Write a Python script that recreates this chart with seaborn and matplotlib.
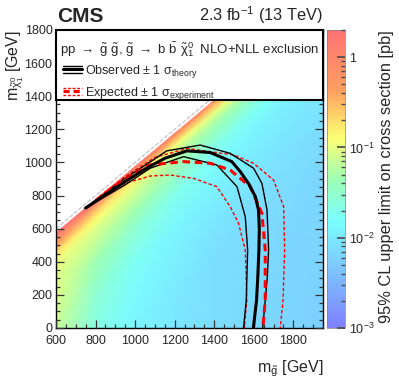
import numpy as np
import matplotlib
matplotlib.use("Agg")
import matplotlib.pyplot as plt
import seaborn as sns
from matplotlib.colors import LinearSegmentedColormap, LogNorm
from matplotlib.lines import Line2D
from matplotlib.patches import Rectangle
from matplotlib.legend_handler import HandlerBase
from matplotlib.ticker import MultipleLocator

# ==================================
# Data
# ==================================
# heat map: log10(upper limit [pb]) on a (gluino mass, mass splitting) grid
gluino_grid = [600, 800, 1000, 1200, 1400, 1600, 1800, 1950]
split_grid = [25, 50, 100, 150, 200, 300, 400, 600, 800, 1000, 1300, 1950]
log_limit = [
    # one row per gluino mass, one value per mass splitting
    [0.25, 0.10, -0.35, -0.75, -0.95, -1.05, -1.05, -1.15, -1.20, -1.20, -1.20, -1.20],
    [0.25, -0.05, -0.65, -0.90, -1.05, -1.20, -1.35, -1.55, -1.65, -1.70, -1.70, -1.70],
    [0.20, -0.25, -0.85, -1.05, -1.15, -1.35, -1.55, -1.75, -1.85, -1.90, -1.90, -1.90],
    [0.05, -0.40, -0.95, -1.15, -1.30, -1.50, -1.70, -1.90, -1.95, -2.00, -2.05, -2.05],
    [-0.10, -0.50, -1.00, -1.25, -1.40, -1.65, -1.80, -1.95, -2.05, -2.10, -2.10, -2.15],
    [-0.20, -0.60, -1.05, -1.30, -1.50, -1.75, -1.90, -2.00, -2.10, -2.15, -2.15, -2.20],
    [-0.30, -0.65, -1.10, -1.35, -1.55, -1.80, -1.95, -2.05, -2.10, -2.15, -2.20, -2.20],
    [-0.35, -0.70, -1.15, -1.40, -1.60, -1.85, -2.00, -2.05, -2.15, -2.20, -2.20, -2.25],
]

# exclusion contours (m_gluino, m_LSP)
obs_x = [750, 850, 950, 1050, 1150, 1262, 1380, 1489, 1532, 1575, 1608, 1624, 1628, 1626, 1620, 1614, 1598]
obs_y = [725, 805, 885, 960, 1025, 1070, 1060, 1005, 944, 870, 793, 713, 600, 471, 300, 169, 0]
obs_up_x = [745, 850, 950, 1060, 1160, 1329, 1481, 1599, 1641, 1667, 1675, 1668, 1658, 1645]
obs_up_y = [722, 815, 905, 990, 1070, 1105, 1055, 965, 874, 713, 471, 300, 169, 0]
obs_dn_x = [750, 850, 950, 1076, 1245, 1413, 1515, 1557, 1569, 1562, 1548]
obs_dn_y = [722, 795, 865, 965, 1035, 985, 854, 672, 471, 169, 0]
exp_x = [800, 900, 1000, 1076, 1245, 1380, 1481, 1582, 1641, 1658, 1658, 1646]
exp_y = [770, 860, 935, 985, 1005, 995, 954, 854, 693, 471, 169, 0]
exp_up_x = [820, 950, 1100, 1262, 1498, 1599, 1700, 1751, 1756, 1748, 1734]
exp_up_y = [795, 915, 1030, 1085, 1045, 995, 894, 733, 471, 169, 0]
exp_dn_x = [880, 960, 1076, 1177, 1295, 1413, 1481, 1523, 1557, 1565, 1552]
exp_dn_y = [850, 878, 918, 924, 904, 854, 733, 632, 471, 169, 0]

diag_mass = [600, 1950]

cbar_ticks = [1e-3, 1e-2, 1e-1, 1]
cbar_ticklabels = [r"$10^{-3}$", r"$10^{-2}$", r"$10^{-1}$", "1"]


class TripleLine(HandlerBase):
    """legend symbol: thick central line with two thin lines around it"""

    def __init__(self, color, ls):
        super().__init__()
        self.color = color
        self.ls = ls

    def create_artists(self, legend, orig_handle, xdescent, ydescent,
                       width, height, fontsize, trans):
        out = []
        for frac, lw in ((0.1, 1.0), (0.5, 2.2), (0.9, 1.0)):
            y = height * frac - ydescent
            ln = Line2D([-xdescent, width - xdescent], [y, y], color=self.color,
                        lw=lw, ls=self.ls)
            if self.ls == "--":
                ln.set_dashes((2, 1.3))
            ln.set_transform(trans)
            out.append(ln)
        return out


sns.set_theme(style="ticks")
plt.rcParams["font.family"] = ["Liberation Sans", "DejaVu Sans"]
plt.rcParams["mathtext.fontset"] = "custom"
plt.rcParams["mathtext.rm"] = "Liberation Sans"
plt.rcParams["mathtext.it"] = "Liberation Sans:italic"
plt.rcParams["mathtext.bf"] = "Liberation Sans:bold"

# pastel rainbow palette
cmap = LinearSegmentedColormap.from_list("pastel", [
    (0.00, (0.50, 0.50, 1.00)),
    (0.36, (0.48, 1.00, 1.00)),
    (0.50, (0.62, 1.00, 0.70)),
    (0.64, (1.00, 1.00, 0.45)),
    (0.80, (1.00, 0.62, 0.38)),
    (1.00, (1.00, 0.45, 0.45)),
])
norm = LogNorm(1e-3, 2)

fig = plt.figure(figsize=(3.99, 3.83), dpi=100)
ax = fig.add_axes([56 / 399, 1 - 328 / 383, 267 / 399, 298 / 383])
ax.set_axisbelow(False)

gl = np.array(gluino_grid, dtype=float)
dm = np.array(split_grid, dtype=float)
X = np.repeat(gl[:, None], len(dm), axis=1)
Y = gl[:, None] - dm[None, :]
mesh = ax.pcolormesh(X, Y, 10 ** np.array(log_limit), shading="gouraud",
                     cmap=cmap, norm=norm, rasterized=True, zorder=1)

sns.lineplot(x=diag_mass, y=diag_mass, ax=ax, color="0.75", lw=0.8,
             linestyle="--", sort=False, estimator=None, zorder=2)

for xs, ys, c, lw, ls in [
    (exp_dn_x, exp_dn_y, "red", 1.0, "--"),
    (exp_up_x, exp_up_y, "red", 1.0, "--"),
    (obs_dn_x, obs_dn_y, "black", 1.0, "-"),
    (obs_up_x, obs_up_y, "black", 1.0, "-"),
    (exp_x, exp_y, "red", 2.2, "--"),
    (obs_x, obs_y, "black", 2.2, "-"),
]:
    sns.lineplot(x=xs, y=ys, ax=ax, color=c, lw=lw, linestyle=ls,
                 sort=False, estimator=None, zorder=3)
    if ls == "--":
        ax.lines[-1].set_dashes((2.5, 1.5))

obs_line = ax.lines[-1]
exp_line = ax.lines[-2]

ax.set_xlim(600, 1950)
ax.set_ylim(0, 1800)
ax.set_xlabel("")
ax.set_ylabel("")
ax.xaxis.set_major_locator(MultipleLocator(200))
ax.xaxis.set_minor_locator(MultipleLocator(50))
ax.yaxis.set_major_locator(MultipleLocator(200))
ax.yaxis.set_minor_locator(MultipleLocator(50))
ax.tick_params(which="both", direction="in", top=True, right=True,
               labelsize=9, color="0.2", width=0.9)
ax.tick_params(axis="x", pad=4.8)
ax.tick_params(axis="y", pad=2.5)
ax.tick_params(which="major", length=6)
ax.tick_params(which="minor", length=3)
for sp in ax.spines.values():
    sp.set_linewidth(1.0)
    sp.set_color("black")

# legend box
ax.add_patch(Rectangle((0, 0.765), 1, 0.235, transform=ax.transAxes,
                       fc="white", ec="black", lw=1.5, zorder=5, clip_on=False))
ax.text(0.015, 0.935,
        r"pp $\rightarrow$ $\mathrm{\tilde{g}}$ $\mathrm{\tilde{g}}$, $\mathrm{\tilde{g}}$ $\rightarrow$ b $\mathrm{\bar{b}}$ $\mathrm{\tilde{\chi}^{0}_{1}}$  NLO+NLL exclusion",
        transform=ax.transAxes, ha="left", va="center", fontsize=9.5, zorder=6)
leg = ax.legend(
    handles=[obs_line, exp_line],
    labels=[r"Observed $\pm$ 1 $\mathrm{\sigma_{theory}}$",
            r"Expected $\pm$ 1 $\mathrm{\sigma_{experiment}}$"],
    handler_map={obs_line: TripleLine("black", "-"), exp_line: TripleLine("red", "--")},
    loc="upper left", bbox_to_anchor=(0.025, 0.89), frameon=False,
    fontsize=9, handlelength=1.55, handletextpad=0.25, labelspacing=0.4,
    borderpad=0, borderaxespad=0,
)
leg.set_zorder(6)

# colour bar
cax = fig.add_axes([327 / 399, 1 - 328 / 383, 18 / 399, 298 / 383])
cb = fig.colorbar(mesh, cax=cax)
cb.set_ticks(cbar_ticks)
cb.set_ticklabels(cbar_ticklabels)
cb.outline.set_linewidth(0.5)
cb.outline.set_edgecolor("0.5")
cax.set_axisbelow(False)
cax.tick_params(which="both", direction="in", labelsize=9, color="0.3", pad=3)
cax.tick_params(which="major", length=6)
cax.tick_params(which="minor", length=3)

fig.text(57 / 399, 1 - 16 / 383, "CMS", fontsize=15, fontweight="bold", ha="left", va="center")
fig.text(323 / 399, 1 - 15 / 383, r"2.3 fb$^{-1}$ (13 TeV)", fontsize=11.8, ha="right", va="center")
fig.text(15 / 399, 1 - 30 / 383, r"m$_{\mathrm{\tilde{\chi}^{0}_{1}}}$ [GeV]", fontsize=11.5,
         rotation=90, ha="center", va="top")
fig.text(323 / 399, 1 - 369 / 383, r"m$_{\mathrm{\tilde{g}}}$ [GeV]", fontsize=11.5, ha="right", va="center")
fig.text(387 / 399, 1 - 30 / 383, "95% CL upper limit on cross section [pb]", fontsize=11.8,
         rotation=90, ha="center", va="top")

fig.savefig("out.png", dpi=100)
